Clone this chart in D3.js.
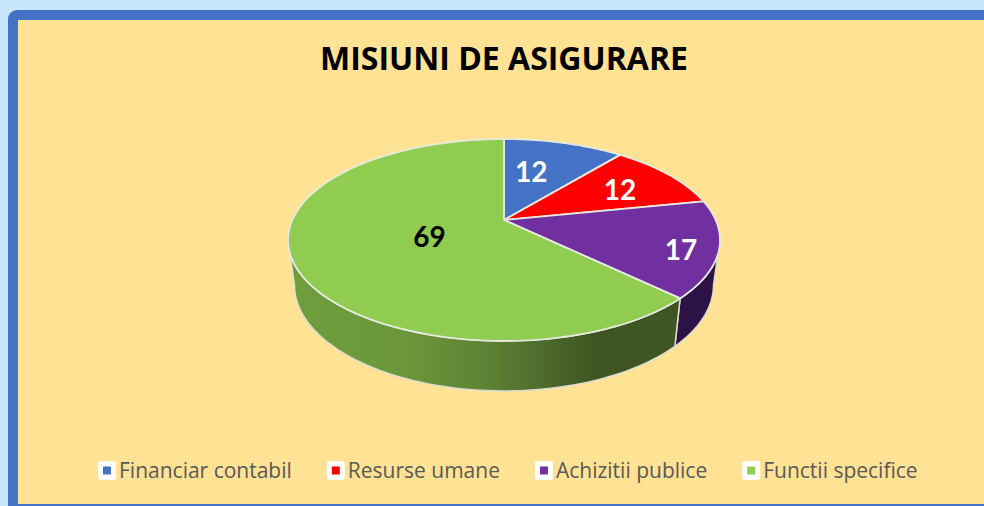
<!DOCTYPE html>
<html>
<head>
<meta charset="utf-8">
<script src="https://cdn.jsdelivr.net/npm/d3@7"></script>
<style>
html, body { margin: 0; padding: 0; background: #c7e8fc; overflow: hidden; }
svg { display: block; }
text { font-family: Lato, "Open Sans", sans-serif; }
</style>
</head>
<body>
<div id="graph"></div>
<script>
// chart data
var title = "MISIUNI DE ASIGURARE";
var categories = ["Financiar contabil", "Resurse umane", "Achizitii publice", "Functii specifice"];
var values = [12, 12, 17, 69];
var colors = ["#4472c4", "#ff0000", "#7030a0", "#8fcc4f"];
var labelColors = ["#ffffff", "#ffffff", "#ffffff", "#000000"];

var width = 984, height = 506;

// top face of the pie, drawn with a little perspective
var pieCx = 504, pieCy = 220;
var radX = 211.7, radY = 97, persp = 0.198;
// the lower rim is a bit narrower and sits further down
var rimScaleX = 0.97, rimScaleY = 1.05, rimCy = 264;

// where the labels sit inside each slice (fraction of radius, turn in radians)
var labelRadius = [0.57, 0.67, 0.84, 0.38];
var labelTurn = [-0.09, 0.03, 0.07, -0.06];

var svg = d3.select("#graph").append("svg")
    .attr("width", width)
    .attr("height", height);

// frame
svg.append("rect")
    .attr("x", 13).attr("y", 15)
    .attr("width", 1000).attr("height", 494)
    .attr("rx", 4)
    .style("fill", "#ffe293")
    .style("stroke", "#4472c4")
    .style("stroke-width", 10);

svg.append("text")
    .attr("x", 504).attr("y", 70)
    .attr("text-anchor", "middle")
    .style("font-family", "'Open Sans', sans-serif")
    .style("font-size", "32px")
    .style("font-weight", 700)
    .style("fill", "#000")
    .text(title);

// angle -> screen, angle measured clockwise from 12 o'clock
function topPoint(a, r) {
    if (r === undefined) r = 1;
    var u = Math.sin(a) * r, v = -Math.cos(a) * r, w = 1 - persp * v;
    return [pieCx + radX * u / w, pieCy + radY * v / w];
}
function rimPoint(a) {
    var u = Math.sin(a), v = -Math.cos(a), w = 1 - persp * v;
    return [pieCx + rimScaleX * radX * u / w, rimCy + rimScaleY * radY * v / w];
}
function range(a0, a1) {
    return d3.range(0, 81).map(function (i) { return a0 + (a1 - a0) * i / 80; });
}

var line = d3.line();
var arcs = d3.pie().sort(null).value(function (d) { return d; })(values);

// the side walls, only the front half can be seen
var rightEdge = Math.PI - Math.acos(persp);
var leftEdge = Math.PI + Math.acos(persp);

var defs = svg.append("defs");
var grad = defs.append("linearGradient")
    .attr("id", "sideGreen")
    .attr("gradientUnits", "userSpaceOnUse")
    .attr("x1", 290).attr("x2", 680)
    .attr("y1", 0).attr("y2", 0);
grad.append("stop").attr("offset", "0").attr("stop-color", "#6f9d3c");
grad.append("stop").attr("offset", "0.3").attr("stop-color", "#6b973a");
grad.append("stop").attr("offset", "0.5").attr("stop-color", "#5e8335");
grad.append("stop").attr("offset", "0.78").attr("stop-color", "#3e5522");
grad.append("stop").attr("offset", "1").attr("stop-color", "#3f5624");

function wall(a0, a1) {
    var top = range(a0, a1).map(function (a) { return topPoint(a); });
    var low = range(a1, a0).map(function (a) { return rimPoint(a); });
    return line(top.concat(low)) + "Z";
}

svg.append("path")
    .attr("d", wall(rightEdge, arcs[2].endAngle))
    .style("fill", "#2c1245")
    .style("stroke", "#d9dcd2")
    .style("stroke-width", 1.5);
svg.append("path")
    .attr("d", wall(arcs[3].startAngle, leftEdge))
    .style("fill", "url(#sideGreen)")
    .style("stroke", "#d9dcd2")
    .style("stroke-width", 1.5);

// top face
svg.selectAll(".slice")
    .data(arcs)
    .enter()
    .append("path")
    .attr("class", "slice")
    .attr("d", function (d) {
        return line([[pieCx, pieCy]].concat(range(d.startAngle, d.endAngle).map(function (a) { return topPoint(a); }))) + "Z";
    })
    .style("fill", function (d, i) { return colors[i]; })
    .style("stroke", "#e6e9de")
    .style("stroke-width", 1.8)
    .style("stroke-linejoin", "round");

// value labels
svg.selectAll(".val")
    .data(arcs)
    .enter()
    .append("text")
    .attr("class", "val")
    .attr("x", function (d, i) { return topPoint((d.startAngle + d.endAngle) / 2 + labelTurn[i], labelRadius[i])[0]; })
    .attr("y", function (d, i) { return topPoint((d.startAngle + d.endAngle) / 2 + labelTurn[i], labelRadius[i])[1]; })
    .attr("dy", "0.36em")
    .attr("text-anchor", "middle")
    .style("font-size", "28px")
    .style("font-weight", 700)
    .style("fill", function (d, i) { return labelColors[i]; })
    .text(function (d) { return d.data; });

// legend, laid out one after the other
var legendX = 98, legendY = 461;
categories.forEach(function (c, i) {
    var g = svg.append("g").attr("transform", "translate(" + legendX + "," + legendY + ")");
    g.append("rect")
        .attr("width", 18).attr("height", 19).attr("rx", 3)
        .style("fill", "#fff");
    g.append("rect")
        .attr("x", 5).attr("y", 5.5)
        .attr("width", 8).attr("height", 8)
        .style("fill", colors[i]);
    var t = g.append("text")
        .attr("x", 21).attr("y", 16.5)
        .style("font-family", "'Open Sans', sans-serif")
        .style("font-size", "21px")
        .style("fill", "#595959")
        .text(c);
    legendX += 21 + t.node().getComputedTextLength() + 35;
});
</script>
</body>
</html>
